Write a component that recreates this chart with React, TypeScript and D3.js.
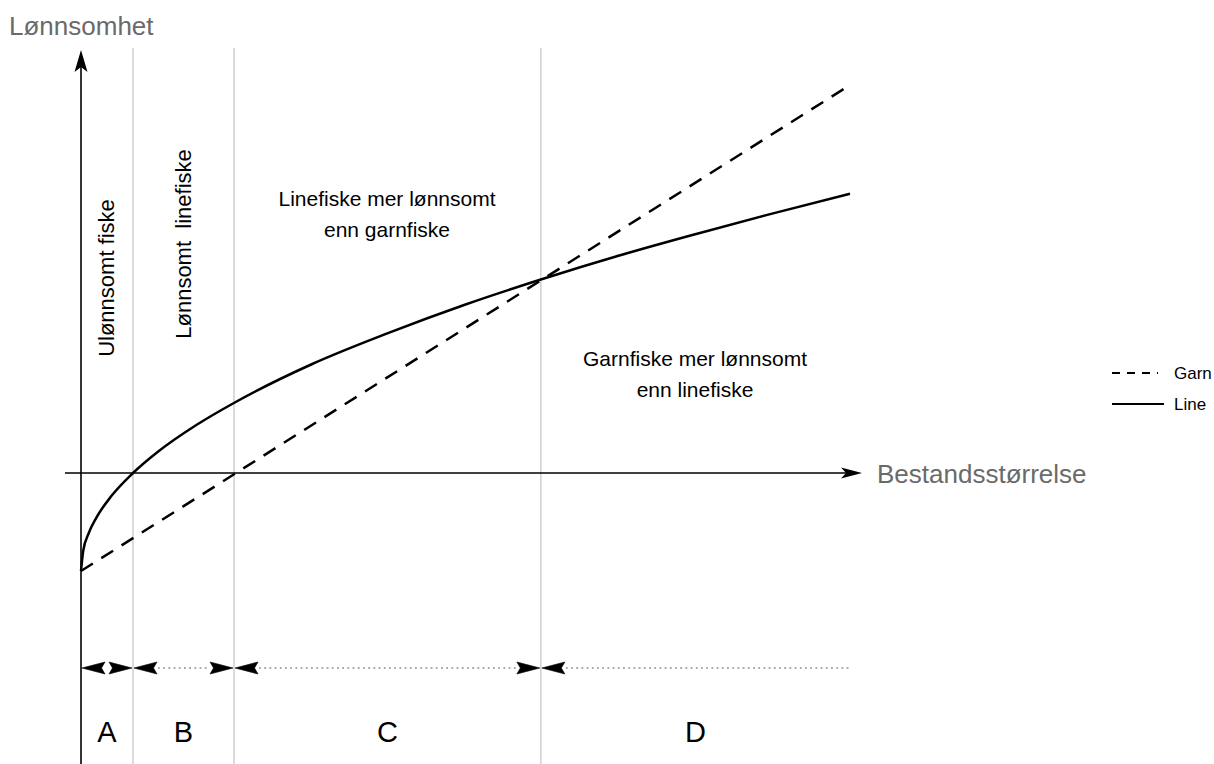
import React from "react";
import * as d3 from "d3";

// Conceptual chart: profitability vs stock size
const garnX = [0, 100];
const garnY = [-1, 3.96];
const lineX = [0, 0.3, 1, 2, 4, 6.76, 10, 15, 20, 30, 40, 50, 60, 70, 80, 90, 100];
const lineY = [-1, -0.79, -0.615, -0.456, -0.23, 0, 0.217, 0.49, 0.72, 1.11, 1.43, 1.72, 1.98, 2.22, 2.44, 2.65, 2.85];
const boundaries = [0, 6.76, 19.9, 59.8, 100];
const zoneLabels = ["A", "B", "C", "D"];
const legendLabels = ["Garn", "Line"];

const W = 1214;
const H = 764;

const x = d3.scaleLinear().domain([0, 100]).range([81, 850]);
const y = d3.scaleLinear().domain([-1, 3.96]).range([571, 85]);

const FONT = "'Liberation Sans', Arial, sans-serif";

function stealth(tipX: number, tipY: number, dir: number, L = 23, h = 6, notch = 19.5) {
  const bx = tipX - dir * L;
  const nx = tipX - dir * notch;
  return `M${tipX},${tipY} L${bx},${tipY - h} L${nx},${tipY} L${bx},${tipY + h} Z`;
}

export default function App() {
  const lineGen = d3
    .line<[number, number]>()
    .x((d) => x(d[0]))
    .y((d) => y(d[1]))
    .curve(d3.curveMonotoneX);
  const linePts: [number, number][] = lineX.map((v, i) => [v, lineY[i]]);
  const garnPts: [number, number][] = garnX.map((v, i) => [v, garnY[i]]);

  const y0 = y(0);
  const arrowY = 668;
  const gray = "#cfcfcf";

  return (
    <svg
      width={W}
      height={H}
      style={{ position: "absolute", left: 0, top: 0, background: "#fff" }}
      fontFamily={FONT}
    >
      {boundaries.slice(1, 4).map((b, i) => (
        <line key={i} x1={x(b)} x2={x(b)} y1={48} y2={H} stroke={gray} strokeWidth={1.5} />
      ))}

      <line x1={x(0)} x2={x(0)} y1={H} y2={58} stroke="#000" strokeWidth={1.6} />
      <path d={`M${x(0)},50 L${x(0) - 6.5},72 L${x(0)},67 L${x(0) + 6.5},72 Z`} fill="#000" />
      <line x1={65} x2={850} y1={y0} y2={y0} stroke="#000" strokeWidth={1.3} />
      <path d={`M862,${y0} L841,${y0 - 5.5} L846,${y0} L841,${y0 + 5.5} Z`} fill="#000" />

      <path d={lineGen(garnPts) || ""} fill="none" stroke="#000" strokeWidth={2.5} strokeDasharray="14 10" />
      <path d={lineGen(linePts) || ""} fill="none" stroke="#000" strokeWidth={2.5} />

      <text x={9} y={35} fontSize={26} fill="#6a6a6a">Lønnsomhet</text>
      <text x={877} y={483} fontSize={26} fill="#6a6a6a">Bestandsstørrelse</text>

      {zoneLabels.map((lab, i) => {
        const a = x(boundaries[i]);
        const b = x(boundaries[i + 1]);
        const hasRight = i < zoneLabels.length - 1;
        const dotStart = a + 25;
        const dotEnd = hasRight ? b - 25 : b;
        return (
          <g key={lab}>
            {dotEnd - dotStart > 6 && (
              <line
                x1={dotStart}
                x2={dotEnd}
                y1={arrowY}
                y2={arrowY}
                stroke="#aaa"
                strokeWidth={1.8}
                strokeDasharray="1.8 3.4"
              />
            )}
            <path d={stealth(a + 1, arrowY, -1)} fill="#000" stroke="#000" strokeWidth={0.6} strokeLinejoin="round" />
            {hasRight && (
              <path d={stealth(b - 1, arrowY, 1)} fill="#000" stroke="#000" strokeWidth={0.6} strokeLinejoin="round" />
            )}
            <text x={(a + b) / 2} y={742} fontSize={29} textAnchor="middle" fill="#000">
              {lab}
            </text>
          </g>
        );
      })}

      <text
        transform={`translate(106,278) rotate(-90)`}
        textAnchor="middle"
        dominantBaseline="central"
        fontSize={22}
        fill="#000"
      >
        Ulønnsomt fiske
      </text>
      <text
        transform={`translate(183,244) rotate(-90)`}
        textAnchor="middle"
        dominantBaseline="central"
        fontSize={22}
        fill="#000"
        style={{ whiteSpace: "pre" }}
      >
        {"Lønnsomt  linefiske"}
      </text>

      <text x={387} y={206} textAnchor="middle" fontSize={21} fill="#000">Linefiske mer lønnsomt</text>
      <text x={387} y={237} textAnchor="middle" fontSize={21} fill="#000">enn garnfiske</text>
      <text x={695} y={366} textAnchor="middle" fontSize={21} fill="#000">Garnfiske mer lønnsomt</text>
      <text x={695} y={397} textAnchor="middle" fontSize={21} fill="#000">enn linefiske</text>

      {legendLabels.map((lab, i) => (
        <g key={lab}>
          <line
            x1={1112}
            x2={i === 0 ? 1158 : 1164}
            y1={373 + i * 31}
            y2={373 + i * 31}
            stroke="#000"
            strokeWidth={2}
            strokeDasharray={i === 0 ? "8 7" : undefined}
          />
          <text x={1174} y={379 + i * 31} fontSize={17} fill="#000">
            {lab}
          </text>
        </g>
      ))}
    </svg>
  );
}
